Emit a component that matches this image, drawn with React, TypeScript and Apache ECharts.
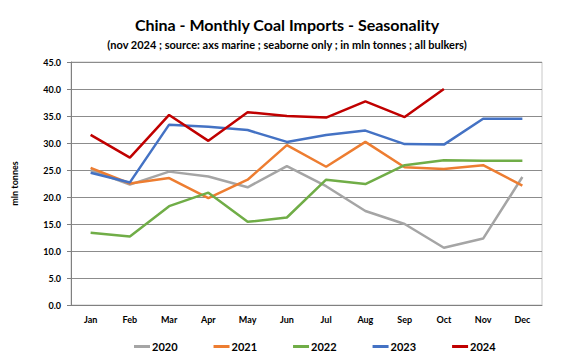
import React, { useEffect, useRef } from "react";
import * as echarts from "echarts";

const months = ["Jan", "Feb", "Mar", "Apr", "May", "Jun", "Jul", "Aug", "Sep", "Oct", "Nov", "Dec"];
const s2020 = [25.0, 22.3, 24.7, 23.8, 21.8, 25.7, 22.0, 17.4, 15.0, 10.6, 12.3, 23.7];
const s2021 = [25.4, 22.5, 23.5, 19.8, 23.2, 29.6, 25.6, 30.2, 25.5, 25.2, 25.9, 22.1];
const s2022 = [13.4, 12.7, 18.3, 20.8, 15.4, 16.2, 23.2, 22.4, 25.9, 26.8, 26.7, 26.7];
const s2023 = [24.5, 22.7, 33.4, 33.0, 32.4, 30.2, 31.5, 32.3, 29.8, 29.7, 34.5, 34.5];
const s2024 = [31.5, 27.3, 35.2, 30.4, 35.7, 35.0, 34.7, 37.7, 34.8, 40.0];

const seriesNames = ["2020", "2021", "2022", "2023", "2024"];
const seriesData = [s2020, s2021, s2022, s2023, s2024];
const colors = ["#A5A5A5", "#ED7D31", "#70AD47", "#4472C4", "#C00000"];

const FONT = "Lato, 'Open Sans', sans-serif";

export default function App() {
  const ref = useRef<HTMLDivElement>(null);
  useEffect(() => {
    if (!ref.current) return;
    const chart = echarts.init(ref.current, undefined, { renderer: "svg" });
    chart.setOption({
      animation: false,
      backgroundColor: "#ffffff",
      title: [
        {
          text: "China - Monthly Coal Imports - Seasonality",
          left: 282,
          textAlign: "center",
          top: 11,
          textStyle: { fontFamily: FONT, fontWeight: "bold", fontSize: 16, color: "#000" },
        },
        {
          text: "(nov 2024 ; source: axs marine ; seaborne only ; in mln tonnes ; all bulkers)",
          left: 282,
          textAlign: "center",
          top: 34,
          textStyle: { fontFamily: FONT, fontWeight: "bold", fontSize: 11, color: "#000" },
        },
      ],
      legend: {
        left: 129,
        top: 336,
        itemGap: 36,
        itemWidth: 16,
        itemHeight: 3,
        icon: "rect",
        data: seriesNames,
        textStyle: { fontFamily: FONT, fontWeight: "bold", fontSize: 11, color: "#000", padding: [0, 0, 0, -3] },
      },
      grid: { left: 71, right: 26, top: 62, bottom: 56, show: true, borderColor: "#c8c8c8", borderWidth: 1 },
      xAxis: {
        type: "category",
        data: months,
        boundaryGap: true,
        axisLine: { lineStyle: { color: "#808080", width: 1 } },
        axisTick: { show: false },
        axisLabel: { fontFamily: FONT, fontWeight: "bold", fontSize: 9, color: "#000", margin: 10 },
      },
      yAxis: {
        type: "value",
        min: 0,
        max: 45,
        interval: 5,
        name: "mln tonnes",
        nameLocation: "middle",
        nameGap: 52,
        nameRotate: 90,
        nameTextStyle: { fontFamily: FONT, fontWeight: "bold", fontSize: 9, color: "#000" },
        axisLine: { show: true, lineStyle: { color: "#808080", width: 1 } },
        axisTick: { show: true, length: 4, lineStyle: { color: "#808080" } },
        splitLine: { lineStyle: { color: "#8c8c8c", width: 1 } },
        axisLabel: {
          fontFamily: FONT,
          fontWeight: "bold",
          fontSize: 9,
          color: "#000",
          margin: 10,
          formatter: (v: number) => v.toFixed(1),
        },
      },
      series: seriesNames.map((n, i) => ({
        name: n,
        type: "line",
        data: seriesData[i],
        symbol: "none",
        color: colors[i],
        lineStyle: { width: 2.5, color: colors[i] },
      })),
    });
    return () => chart.dispose();
  }, []);
  return <div ref={ref} style={{ width: 568, height: 361, margin: -8 }} />;
}
